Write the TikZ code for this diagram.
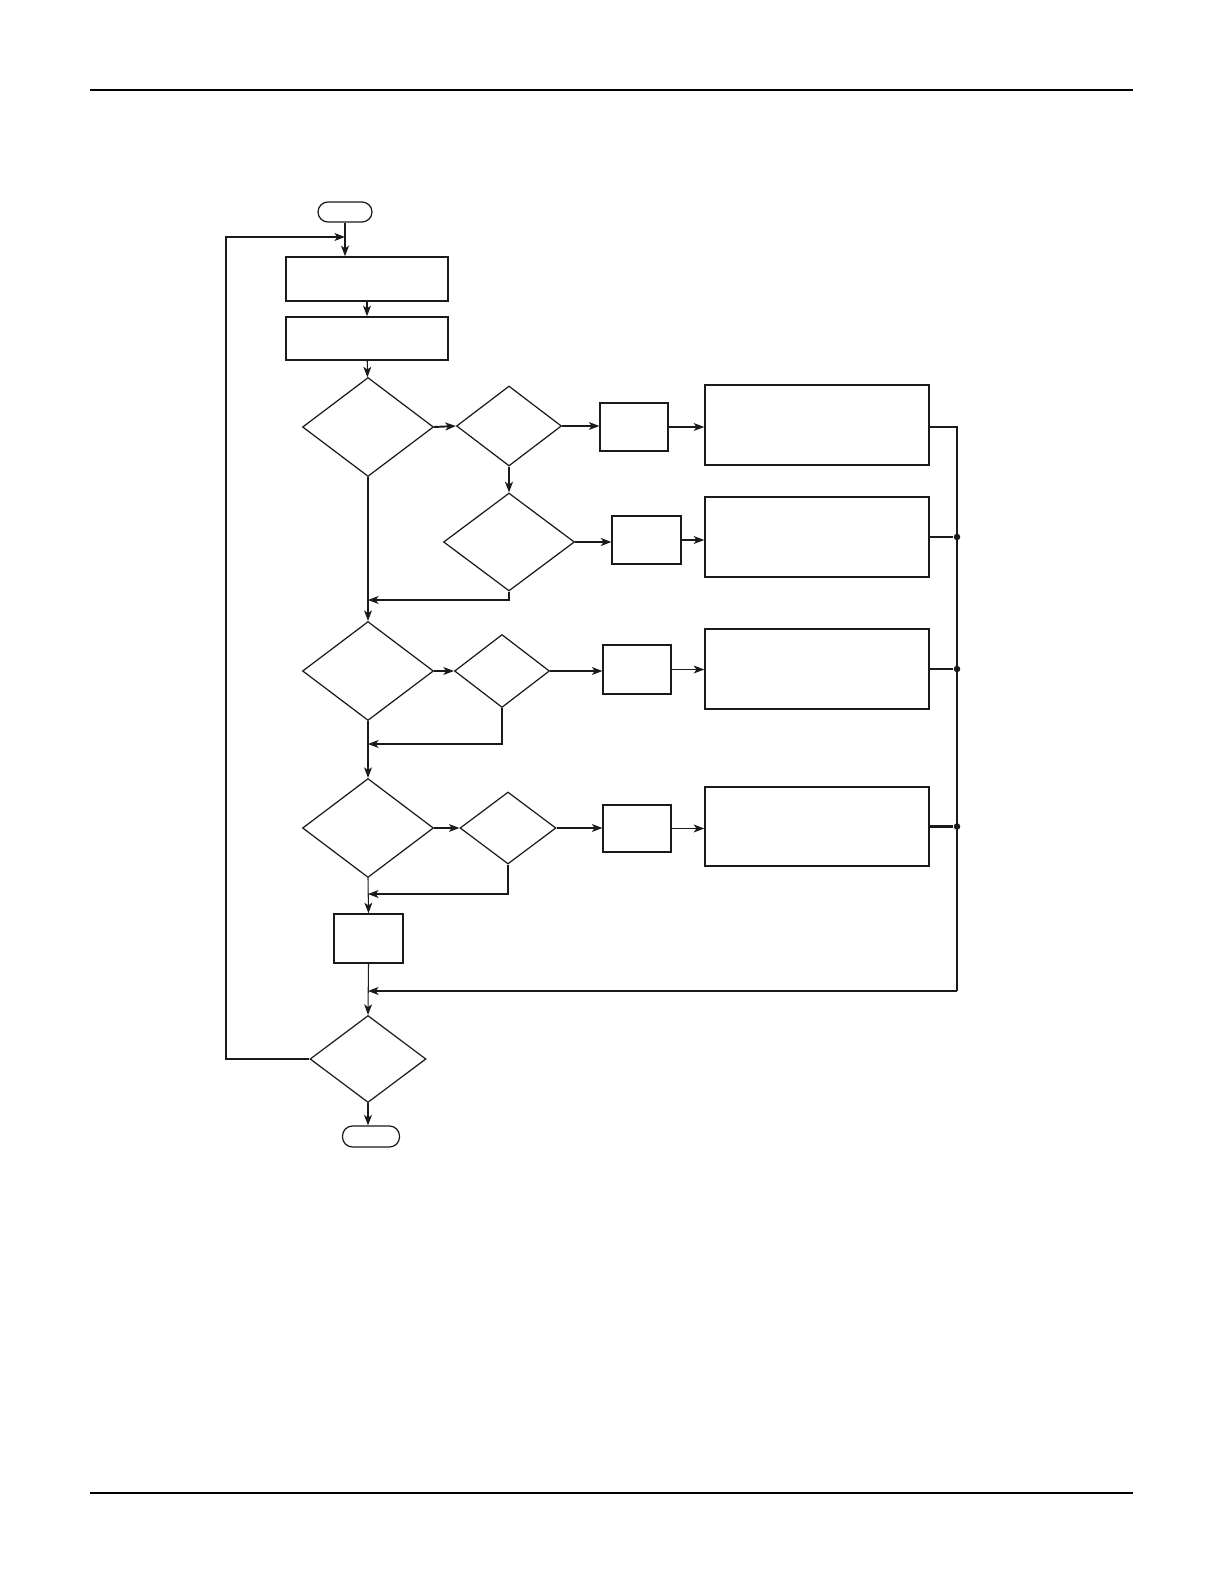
\documentclass[tikz,border=0pt]{standalone}
\usepackage{tikz}
\usetikzlibrary{arrows.meta,shapes.geometric}
\definecolor{InkBlack}{HTML}{1A1A1A}

\tikzset{
  procbox/.style={draw=InkBlack,line width=0.9pt,inner sep=0pt},
  decide/.style={draw=InkBlack,diamond,line width=0.7pt,inner sep=0pt},
  termnode/.style={draw=InkBlack,rounded corners=0.2cm,line width=0.7pt,inner sep=0pt},
  flow/.style={draw=InkBlack,line width=0.6pt,-{Stealth[length=6pt,width=4.5pt,inset=1.6pt]}},
  heavyflow/.style={flow,line width=1.1pt},
  wire/.style={draw=InkBlack,line width=0.6pt},
  heavywire/.style={wire,line width=1.2pt},
  junction/.style={circle,fill=InkBlack,inner sep=0pt,minimum size=0.13cm}
}

\begin{document}
\begin{tikzpicture}[x=0.02cm,y=-0.02cm]
\useasboundingbox (0,0) rectangle (1224,1584);

% page rules
\draw[line width=1.2pt] (90,90) -- (1133,90);
\draw[line width=1.2pt] (90,1493) -- (1133,1493);

% main column
\node[termnode,minimum width=1.08cm,minimum height=0.40cm] (start) at (345,212) {};
\node[procbox,minimum width=3.24cm,minimum height=0.88cm] (box1) at (367,279) {};
\node[procbox,minimum width=3.24cm,minimum height=0.86cm] (box2) at (367,338.5) {};
\node[decide,minimum width=2.62cm,minimum height=1.98cm] (d1) at (368,427) {};
\node[decide,minimum width=2.62cm,minimum height=1.98cm] (d4) at (368,671) {};
\node[decide,minimum width=2.62cm,minimum height=1.98cm] (d6) at (368,828) {};
\node[procbox,minimum width=1.38cm,minimum height=0.98cm] (tally) at (368.5,938.5) {};
\node[decide,minimum width=2.32cm,minimum height=1.74cm] (d8) at (368,1059) {};
\node[termnode,minimum width=1.14cm,minimum height=0.42cm] (stop) at (371,1136.5) {};

% inner tests
\node[decide,minimum width=2.10cm,minimum height=1.60cm] (d2) at (509,426) {};
\node[decide,minimum width=2.62cm,minimum height=1.96cm] (d3) at (509,542) {};
\node[decide,minimum width=1.90cm,minimum height=1.46cm] (d5) at (502,671) {};
\node[decide,minimum width=1.92cm,minimum height=1.44cm] (d7) at (508,828) {};

% small boxes
\node[procbox,line width=0.7pt,minimum width=1.36cm,minimum height=0.96cm] (sa) at (634,427) {};
\node[procbox,line width=0.7pt,minimum width=1.38cm,minimum height=0.96cm] (sb) at (646.5,540) {};
\node[procbox,line width=0.7pt,minimum width=1.36cm,minimum height=0.98cm] (sc) at (637,669.5) {};
\node[procbox,line width=0.7pt,minimum width=1.36cm,minimum height=0.94cm] (sd) at (637,828.5) {};

% big boxes
\node[procbox,minimum width=4.48cm,minimum height=1.60cm] (ba) at (817,425) {};
\node[procbox,minimum width=4.48cm,minimum height=1.60cm] (bb) at (817,537) {};
\node[procbox,minimum width=4.48cm,minimum height=1.60cm] (bc) at (817,669) {};
\node[procbox,minimum width=4.48cm,minimum height=1.58cm] (bd) at (817,826.5) {};

% junction points
\coordinate (bus) at (957,427);
\coordinate (m1) at (368,600);
\coordinate (m2) at (368,744);
\coordinate (m3) at (368,894);
\coordinate (m4) at (368,991);
\coordinate (lc) at (226,237);
\coordinate (lp) at (345,237);
\node[junction] (jb) at (bb.east -| bus) {};
\node[junction] (jc) at (bc.east -| bus) {};
\node[junction] (jd) at (bd.east -| bus) {};

% main flow
\draw[flow] (start.south) -- (start.south |- box1.north);
\draw[flow] (box1) -- (box2);
\draw[flow] (box2) -- (d1);
\draw[flow] (d1.south) -- (d4.north);
\draw[flow] (d4.south) -- (d6.north);
\draw[flow] (d6.south) -- (tally.north);
\draw[flow] (tally.south) -- (d8.north);
\draw[flow] (d8.south) -- (d8.south |- stop.north);
\draw[flow,line width=0.9pt] (d8.west) -| (lc) -- (lp);

% row one and two
\draw[heavyflow] (d1.east) -- (d2.west);
\draw[flow] (d2.east) -- (sa.west |- d2.east);
\draw[flow] (sa.east) -- (ba.west |- sa.east);
\draw[heavyflow] (d2.south) -- (d3.north);
\draw[heavyflow] (d3.east) -- (sb.west |- d3.east);
\draw[flow] (sb.east) -- (bb.west |- sb.east);
\draw[flow] (d3.south) |- (m1);

% row three
\draw[flow] (d4.east) -- (d5.west);
\draw[flow] (d5.east) -- (sc.west |- d5.east);
\draw[flow] (sc.east) -- (bc.west |- sc.east);
\draw[flow] (d5.south) |- (m2);

% row four
\draw[flow] (d6.east) -- (d7.west);
\draw[flow] (d7.east) -- (sd.west |- d7.east);
\draw[flow] (sd.east) -- (bd.west |- sd.east);
\draw[flow] (d7.south) |- (m3);

% return bus
\draw[wire] (ba.east |- bus) -- (bus) -- (bus |- m4);
\draw[flow] (bus |- m4) -- (m4);
\draw[heavywire] (bb.east) -- (jb);
\draw[heavywire] (bc.east) -- (jc);
\draw[heavywire] (bd.east) -- (jd);
\end{tikzpicture}
\end{document}
